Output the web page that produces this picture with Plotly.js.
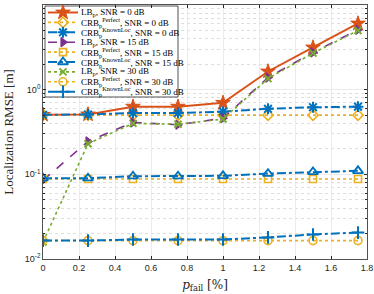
<!DOCTYPE html>
<html><head><meta charset="utf-8">
<script src="https://cdn.plot.ly/plotly-3.0.1.min.js"></script>
<style>body{margin:0;padding:0;background:#fff}#chart{width:374px;height:294px}</style>
</head><body><div id="chart"></div>
<script>
const pfail = [0, 0.25, 0.5, 0.75, 1, 1.25, 1.5, 1.75];
const lb0   = [0.505, 0.51, 0.63, 0.63, 0.70, 1.64, 3.15, 6.05];
const crbP0 = [0.50, 0.50, 0.50, 0.50, 0.50, 0.50, 0.50, 0.50];
const crbK0 = [0.505, 0.51, 0.53, 0.53, 0.55, 0.595, 0.62, 0.63];
const lb15  = [0.085, 0.245, 0.41, 0.385, 0.46, 1.39, 2.75, 5.1];
const crbP15 = [0.088, 0.088, 0.088, 0.088, 0.088, 0.088, 0.088, 0.088];
const crbK15 = [0.09, 0.09, 0.095, 0.095, 0.096, 0.102, 0.107, 0.11];
const lb30  = [0.0159, 0.23, 0.40, 0.39, 0.45, 1.35, 2.7, 5.0];
const crbP30 = [0.0165, 0.0165, 0.0165, 0.0165, 0.0165, 0.0165, 0.0165, 0.0165];
const crbK30 = [0.0165, 0.0165, 0.017, 0.017, 0.017, 0.018, 0.0195, 0.0205];
const names = [
 'LB<sub>p</sub>, SNR = 0 dB',
 'CRB<sub>p</sub><sup>Perfect</sup>, SNR = 0 dB',
 'CRB<sub>p</sub><sup>KnownLoc</sup>, SNR = 0 dB',
 'LB<sub>p</sub>, SNR = 15 dB',
 'CRB<sub>p</sub><sup>Perfect</sup>, SNR = 15 dB',
 'CRB<sub>p</sub><sup>KnownLoc</sup>, SNR = 15 dB',
 'LB<sub>p</sub>, SNR = 30 dB',
 'CRB<sub>p</sub><sup>Perfect</sup>, SNR = 30 dB',
 'CRB<sub>p</sub><sup>KnownLoc</sup>, SNR = 30 dB'
];
const xtickvals = [0, 0.2, 0.4, 0.6, 0.8, 1, 1.2, 1.4, 1.6, 1.8];
const xticktext = ['0', '0.2', '0.4', '0.6', '0.8', '1', '1.2', '1.4', '1.6', '1.8'];
const ytickvals = [0.01, 0.1, 1, 10];
const yticktext = ['10<sup>-2</sup>', '10<sup>-1</sup>', '10<sup>0</sup>', '10<sup>1</sup>'];
const yminor = [];
[0.01, 0.1, 1].forEach(d => { for (let k = 2; k <= 9; k++) yminor.push(d * k); });

const OR = '#D95319', YE = '#EDB120', BL = '#0072BD', PU = '#7E2F8E', GR = '#77AC30';
const series = [
  {y: lb0,    c: OR, dash: 'solid',   w: 2,   sym: 'star',             s: 11, lw: 1},
  {y: crbP0,  c: YE, dash: 'dot',     w: 1.6, sym: 'diamond-open',     s: 8,  lw: 1.6},
  {y: crbK0,  c: BL, dash: 'dashdot', w: 2,   sym: 'asterisk-open',    s: 9,  lw: 2},
  {y: lb15,   c: PU, dash: 'dash',    w: 1.6, sym: 'triangle-right',   s: 8,  lw: 1.2},
  {y: crbP15, c: YE, dash: 'dot',     w: 1.6, sym: 'square-open',      s: 7,  lw: 1.6},
  {y: crbK15, c: BL, dash: 'dashdot', w: 2,   sym: 'triangle-up-open', s: 9,  lw: 1.8},
  {y: lb30,   c: GR, dash: 'dot',     w: 1.6, sym: 'x-thin-open',      s: 7,  lw: 2},
  {y: crbP30, c: YE, dash: 'dot',     w: 1.6, sym: 'circle-open',      s: 8,  lw: 1.6},
  {y: crbK30, c: BL, dash: 'dashdot', w: 2,   sym: 'cross-thin-open',  s: 9,  lw: 2}
];
const data = series.map((o, i) => ({
  x: pfail, y: o.y, name: names[i], type: 'scatter', mode: 'lines+markers', showlegend: false,
  line: {color: o.c, dash: o.dash, width: o.w},
  marker: {symbol: o.sym, size: o.s, color: o.c, line: {color: o.c, width: o.lw}}
}));

// custom legend drawn on an overlay axis measured in pixels of the plot area
const PL = 43, PR = 367, PT = 5, PB = 259;
const box = {x0: 45, x1: 178, y0: 6, y1: 97};
data.push({x: [box.x0, box.x1, box.x1, box.x0, box.x0], y: [box.y0, box.y0, box.y1, box.y1, box.y0],
  xaxis: 'x2', yaxis: 'y2', type: 'scatter', mode: 'lines', fill: 'toself', fillcolor: '#ffffff',
  line: {color: '#262626', width: 0.8}, showlegend: false, hoverinfo: 'skip'});
const annotations = [];
series.forEach((o, i) => {
  const yy = 12.5 + i * 9.9;
  data.push({x: [48, 78], y: [yy, yy], xaxis: 'x2', yaxis: 'y2', type: 'scatter', mode: 'lines',
    line: {color: o.c, dash: o.dash, width: o.w}, showlegend: false, hoverinfo: 'skip'});
  data.push({x: [63], y: [yy], xaxis: 'x2', yaxis: 'y2', type: 'scatter', mode: 'markers',
    marker: {symbol: o.sym, size: o.s, color: o.c, line: {color: o.c, width: o.lw}}, showlegend: false, hoverinfo: 'skip'});
  annotations.push({x: 80, y: yy, xref: 'x2', yref: 'y2', xanchor: 'left', yanchor: 'middle',
    text: names[i], showarrow: false, align: 'left', borderpad: 0,
    font: {family: 'Liberation Serif, DejaVu Serif', size: 9, color: '#000'}});
});

const layout = {
  width: 374, height: 294,
  margin: {l: PL, r: 374 - PR, t: PT, b: 294 - PB},
  paper_bgcolor: '#fff', plot_bgcolor: '#fff',
  showlegend: false,
  font: {family: 'Liberation Sans, Arial', size: 9, color: '#262626'},
  xaxis: {range: [0, 1.8], tickvals: xtickvals, ticktext: xticktext,
    ticks: 'inside', ticklen: 3, tickcolor: '#262626',
    showline: true, linecolor: '#262626', linewidth: 0.8, mirror: 'ticks',
    showgrid: true, gridcolor: '#e6e6e6', gridwidth: 0.8, zeroline: false,
    title: {text: '<i>p</i><sub>fail</sub> [%]', font: {family: 'DejaVu Serif, Liberation Serif', size: 12, color: '#262626'}, standoff: 8}},
  yaxis: {type: 'log', range: [-2, 1], tickvals: ytickvals, ticktext: yticktext,
    ticks: 'inside', ticklen: 3, tickcolor: '#262626',
    showline: true, linecolor: '#262626', linewidth: 0.8, mirror: 'ticks',
    showgrid: true, gridcolor: '#e6e6e6', gridwidth: 0.8, zeroline: false,
    minor: {tickvals: yminor, ticks: 'inside', ticklen: 2, tickcolor: '#262626', showgrid: true, gridcolor: '#d6d6d6', griddash: 'dot', gridwidth: 0.8},
    title: {text: 'Localization RMSE [m]', font: {family: 'Liberation Serif, DejaVu Serif', size: 13, color: '#262626'}, standoff: 8}},
  xaxis2: {overlaying: 'x', range: [PL, PR], visible: false, fixedrange: true},
  yaxis2: {overlaying: 'y', range: [PB, PT], visible: false, fixedrange: true},
  annotations: annotations
};
Plotly.newPlot('chart', data, layout, {displayModeBar: false, staticPlot: true});
</script></body></html>
